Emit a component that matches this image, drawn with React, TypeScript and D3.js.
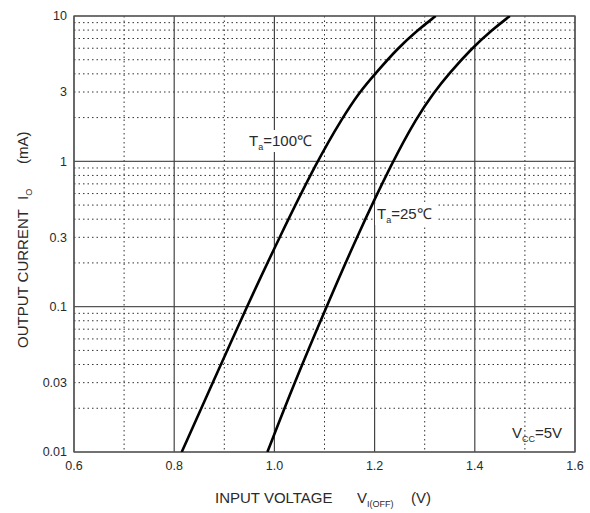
import React from "react";
import * as d3 from "d3";

const currents = [0.01, 0.03, 0.1, 0.3, 1, 2, 3, 4, 6, 8, 10];
const volt100 = [0.815, 0.877, 0.945, 1.01, 1.085, 1.136, 1.17, 1.201, 1.246, 1.286, 1.322];
const volt25 = [0.986, 1.04, 1.104, 1.164, 1.236, 1.284, 1.319, 1.348, 1.394, 1.434, 1.47];

const xTicks = [0.6, 0.8, 1.0, 1.2, 1.4, 1.6];
const xTickLabels = ["0.6", "0.8", "1.0", "1.2", "1.4", "1.6"];
const xMinor = [0.7, 0.9, 1.1, 1.3, 1.5];
const yTicks = [0.01, 0.03, 0.1, 0.3, 1, 3, 10];
const yTickLabels = ["0.01", "0.03", "0.1", "0.3", "1", "3", "10"];
const yMajor = [0.01, 0.1, 1, 10];
const decades = [0.01, 0.1, 1];
const mults = [2, 3, 4, 5, 6, 7, 8, 9];

const W = 590, H = 513;
const L = 74, R = 575, T = 16, B = 452;

export default function App() {
  const x = d3.scaleLinear().domain([0.6, 1.6]).range([L, R]);
  const y = d3.scaleLog().domain([0.01, 10]).range([B, T]);
  const line = d3
    .line<[number, number]>()
    .x((d) => x(d[0]))
    .y((d) => y(d[1]))
    .curve(d3.curveBasis);
  const mk = (vs: number[]) =>
    line(vs.map((v, i) => [v, currents[i]] as [number, number])) || "";
  const d100 = mk(volt100);
  const d25 = mk(volt25);
  const minorY: number[] = [];
  decades.forEach((d) => mults.forEach((m) => minorY.push(d * m)));
  const font = "'Liberation Sans', Arial, sans-serif";
  const tc = "#2a2a2a";

  return (
    <svg
      width={W}
      height={H}
      style={{ position: "absolute", left: 0, top: 0, background: "#fff" }}
      fontFamily={font}
    >
      <defs>
        <clipPath id="plot">
          <rect x={L} y={T} width={R - L} height={B - T} />
        </clipPath>
      </defs>
      {minorY.map((v, i) => (
        <line key={"my" + i} x1={L} x2={R} y1={y(v)} y2={y(v)} stroke="#333" strokeWidth={1} strokeDasharray="1.5,3" />
      ))}
      {xMinor.map((v, i) => (
        <line key={"mx" + i} x1={x(v)} x2={x(v)} y1={T} y2={B} stroke="#333" strokeWidth={1} strokeDasharray="1.5,3" />
      ))}
      {yMajor.map((v, i) => (
        <line key={"My" + i} x1={L} x2={R} y1={y(v)} y2={y(v)} stroke="#555" strokeWidth={1.2} />
      ))}
      {xTicks.map((v, i) => (
        <line key={"Mx" + i} x1={x(v)} x2={x(v)} y1={T} y2={B} stroke="#444" strokeWidth={1.2} />
      ))}
      <rect x={L} y={T} width={R - L} height={B - T} fill="none" stroke="#555" strokeWidth={1.3} />

      {/* labels with white background */}
      <rect x={247} y={130} width={74} height={22} fill="#fff" />
      <text x={249} y={146} fontSize={15} fill={tc}>
        T<tspan fontSize={9} dy={4}>a</tspan>
        <tspan dy={-4}>=100℃</tspan>
      </text>
      <rect x={375} y={204} width={62} height={21} fill="#fff" />
      <text x={377} y={219} fontSize={15} fill={tc}>
        T<tspan fontSize={9} dy={4}>a</tspan>
        <tspan dy={-4}>=25℃</tspan>
      </text>
      <text x={512} y={438} fontSize={15} fill={tc}>
        V<tspan fontSize={9} dy={4}>CC</tspan>
        <tspan dy={-4}>=5V</tspan>
      </text>

      <g clipPath="url(#plot)">
        <path d={d100} fill="none" stroke="#000" strokeWidth={2.6} />
        <path d={d25} fill="none" stroke="#000" strokeWidth={2.6} />
      </g>

      {yTicks.map((v, i) => (
        <text key={"yt" + i} x={67} y={y(v)} dy="0.35em" textAnchor="end" fontSize={12.5} fill={tc}>
          {yTickLabels[i]}
        </text>
      ))}
      {xTicks.map((v, i) => (
        <text key={"xt" + i} x={x(v)} y={470} textAnchor="middle" fontSize={12.5} fill={tc}>
          {xTickLabels[i]}
        </text>
      ))}

      <text x={215} y={503} fontSize={15} fill={tc}>
        INPUT VOLTAGE
      </text>
      <text x={357} y={503} fontSize={15} fill={tc}>
        V<tspan fontSize={9} dy={4}>I(OFF)</tspan>
      </text>
      <text x={411} y={503} fontSize={15} fill={tc}>
        (V)
      </text>

      <g transform="translate(28,348) rotate(-90)">
        <text x={0} y={0} fontSize={15} fill={tc}>
          OUTPUT CURRENT
        </text>
        <text x={148} y={0} fontSize={15} fill={tc}>
          I<tspan fontSize={9} dy={4}>O</tspan>
        </text>
        <text x={184} y={0} fontSize={15} fill={tc}>
          (mA)
        </text>
      </g>
    </svg>
  );
}
